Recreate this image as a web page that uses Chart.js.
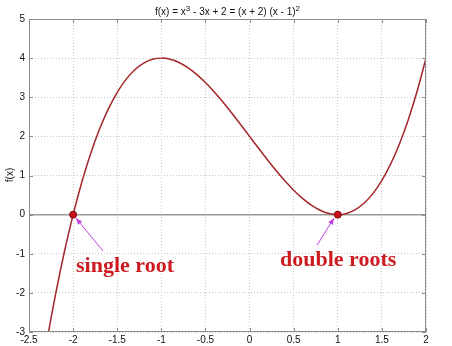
<!DOCTYPE html>
<html>
<head>
<meta charset="utf-8">
<script src="https://cdn.jsdelivr.net/npm/chart.js@4/dist/chart.umd.min.js"></script>
<style>
  html, body { margin: 0; padding: 0; background: #fff; }
  canvas { display: block; }
</style>
</head>
<body>
<canvas id="rootsChart" width="452" height="346"></canvas>
<script>
// values
const xValues = [-2.5, -2.4, -2.3, -2.2, -2.1, -2.0, -1.9, -1.8, -1.7, -1.6, -1.5, -1.4, -1.3, -1.2, -1.1, -1.0,
    -0.9, -0.8, -0.7, -0.6, -0.5, -0.4, -0.3, -0.2, -0.1, 0, 0.1, 0.2, 0.3, 0.4, 0.5, 0.6, 0.7, 0.8, 0.9, 1.0,
    1.1, 1.2, 1.3, 1.4, 1.5, 1.6, 1.7, 1.8, 1.9, 2.0];
const yValues = [-6.125, -4.624, -3.267, -2.048, -0.961, 0, 0.841, 1.568, 2.187, 2.704, 3.125, 3.456, 3.703, 3.872, 3.969, 4,
    3.971, 3.888, 3.757, 3.584, 3.375, 3.136, 2.873, 2.592, 2.299, 2, 1.701, 1.408, 1.127, 0.864, 0.625, 0.416, 0.243, 0.112, 0.029, 0,
    0.031, 0.128, 0.297, 0.544, 0.875, 1.296, 1.813, 2.432, 3.159, 4];

// roots marked on the x axis
const rootX = [-2, 1];
const rootY = [0, 0];

const xTicks = [-2.5, -2, -1.5, -1, -0.5, 0, 0.5, 1, 1.5, 2];
const yTicks = [-3, -2, -1, 0, 1, 2, 3, 4, 5];

// title pieces, sup = superscript
const titleParts = [
    { t: 'f(x) = x' }, { t: '3', sup: true },
    { t: ' - 3x + 2 = (x + 2) (x - 1)' }, { t: '2', sup: true }
];
const yLabel = 'f(x)';

// annotation text + arrows (data coords)
const notes = [
    { text: 'single root', x: -1.967, y: -1.47, tail: [-1.661, -0.93], tip: [-1.967, -0.09] },
    { text: 'double roots', x: 0.345, y: -1.31, tail: [0.765, -0.78], tip: [0.957, -0.09] }
];

const sansFont = '"Liberation Sans", Arial, sans-serif';

const decorPlugin = {
    id: 'decor',
    beforeDatasetsDraw(chart) {
        const { ctx, chartArea: a, scales: { y } } = chart;
        // solid zero line
        const y0 = y.getPixelForValue(0);
        ctx.save();
        ctx.strokeStyle = '#9a9a9a';
        ctx.lineWidth = 1.5;
        ctx.beginPath();
        ctx.moveTo(a.left, y0);
        ctx.lineTo(a.right, y0);
        ctx.stroke();
        ctx.restore();
    },
    afterDraw(chart) {
        const { ctx, chartArea: a, scales: { x, y } } = chart;
        ctx.save();

        // box round the plot
        ctx.strokeStyle = '#8c8c8c';
        ctx.lineWidth = 1;
        ctx.strokeRect(a.left + 0.5, a.top + 0.5, a.right - a.left - 1, a.bottom - a.top - 1);

        // inward tick marks on all sides
        ctx.beginPath();
        xTicks.forEach(v => {
            const px = Math.round(x.getPixelForValue(v)) + 0.5;
            ctx.moveTo(px, a.bottom); ctx.lineTo(px, a.bottom - 4);
            ctx.moveTo(px, a.top); ctx.lineTo(px, a.top + 4);
        });
        yTicks.forEach(v => {
            const py = Math.round(y.getPixelForValue(v)) + 0.5;
            ctx.moveTo(a.left, py); ctx.lineTo(a.left + 4, py);
            ctx.moveTo(a.right, py); ctx.lineTo(a.right - 4, py);
        });
        ctx.stroke();

        // title with superscripts
        ctx.fillStyle = '#111';
        ctx.textBaseline = 'alphabetic';
        ctx.textAlign = 'left';
        const baseFont = '10px ' + sansFont, supFont = '8px ' + sansFont;
        let total = 0;
        titleParts.forEach(p => {
            ctx.font = p.sup ? supFont : baseFont;
            total += ctx.measureText(p.t).width;
        });
        let tx = (a.left + a.right) / 2 - total / 2;
        titleParts.forEach(p => {
            ctx.font = p.sup ? supFont : baseFont;
            ctx.fillText(p.t, tx, p.sup ? 11 : 15);
            tx += ctx.measureText(p.t).width;
        });

        // y axis label
        ctx.save();
        ctx.font = baseFont;
        ctx.textAlign = 'center';
        ctx.textBaseline = 'middle';
        ctx.translate(10, 175);
        ctx.rotate(-Math.PI / 2);
        ctx.fillText(yLabel, 0, 0);
        ctx.restore();

        // arrows
        ctx.strokeStyle = '#c040e0';
        ctx.fillStyle = '#c040e0';
        ctx.lineWidth = 1;
        notes.forEach(n => {
            const x1 = x.getPixelForValue(n.tail[0]), y1 = y.getPixelForValue(n.tail[1]);
            const x2 = x.getPixelForValue(n.tip[0]), y2 = y.getPixelForValue(n.tip[1]);
            const ang = Math.atan2(y2 - y1, x2 - x1);
            ctx.beginPath();
            ctx.moveTo(x1, y1);
            ctx.lineTo(x2, y2);
            ctx.stroke();
            ctx.beginPath();
            ctx.moveTo(x2, y2);
            ctx.lineTo(x2 - 7 * Math.cos(ang - 0.4), y2 - 7 * Math.sin(ang - 0.4));
            ctx.lineTo(x2 - 7 * Math.cos(ang + 0.4), y2 - 7 * Math.sin(ang + 0.4));
            ctx.closePath();
            ctx.fill();
        });

        // labels
        ctx.fillStyle = '#cc1c22';
        ctx.font = 'bold 22px "Liberation Serif", "Times New Roman", serif';
        ctx.textAlign = 'left';
        ctx.textBaseline = 'alphabetic';
        notes.forEach(n => {
            ctx.fillText(n.text, x.getPixelForValue(n.x), y.getPixelForValue(n.y));
        });

        ctx.restore();
    }
};

const gridColor = '#c8c8c8';

new Chart(document.getElementById('rootsChart'), {
    type: 'scatter',
    data: {
        datasets: [{
            label: 'f(x)',
            data: xValues.map((v, i) => ({ x: v, y: yValues[i] })),
            showLine: true,
            borderColor: '#a3262a',
            borderWidth: 1.5,
            pointRadius: 0,
            tension: 0.3,
            order: 2
        }, {
            label: 'roots',
            data: rootX.map((v, i) => ({ x: v, y: rootY[i] })),
            backgroundColor: '#cc0f1a',
            borderColor: '#7a0c10',
            borderWidth: 1,
            pointRadius: 3.5,
            order: 1
        }]
    },
    options: {
        responsive: false,
        animation: false,
        layout: { padding: { left: 0, right: 26, top: 19, bottom: 0 } },
        scales: {
            x: {
                type: 'linear',
                min: -2.5,
                max: 2,
                afterBuildTicks: s => { s.ticks = xTicks.map(v => ({ value: v })); },
                afterFit: s => { s.height = 14; },
                grid: { color: gridColor, drawTicks: false },
                border: { display: false, dash: [1, 2] },
                ticks: {
                    padding: 2, color: '#111', maxRotation: 0,
                    font: { size: 10, family: sansFont },
                    callback: v => String(v)
                }
            },
            y: {
                type: 'linear',
                min: -3,
                max: 5,
                afterBuildTicks: s => { s.ticks = yTicks.map(v => ({ value: v })); },
                afterFit: s => { s.width = 29; },
                grid: { color: gridColor, drawTicks: false },
                border: { display: false, dash: [1, 2] },
                ticks: {
                    padding: 4, color: '#111',
                    font: { size: 10, family: sansFont },
                    callback: v => String(v)
                }
            }
        },
        plugins: {
            legend: { display: false },
            tooltip: { enabled: false }
        }
    },
    plugins: [decorPlugin]
});
</script>
</body>
</html>
